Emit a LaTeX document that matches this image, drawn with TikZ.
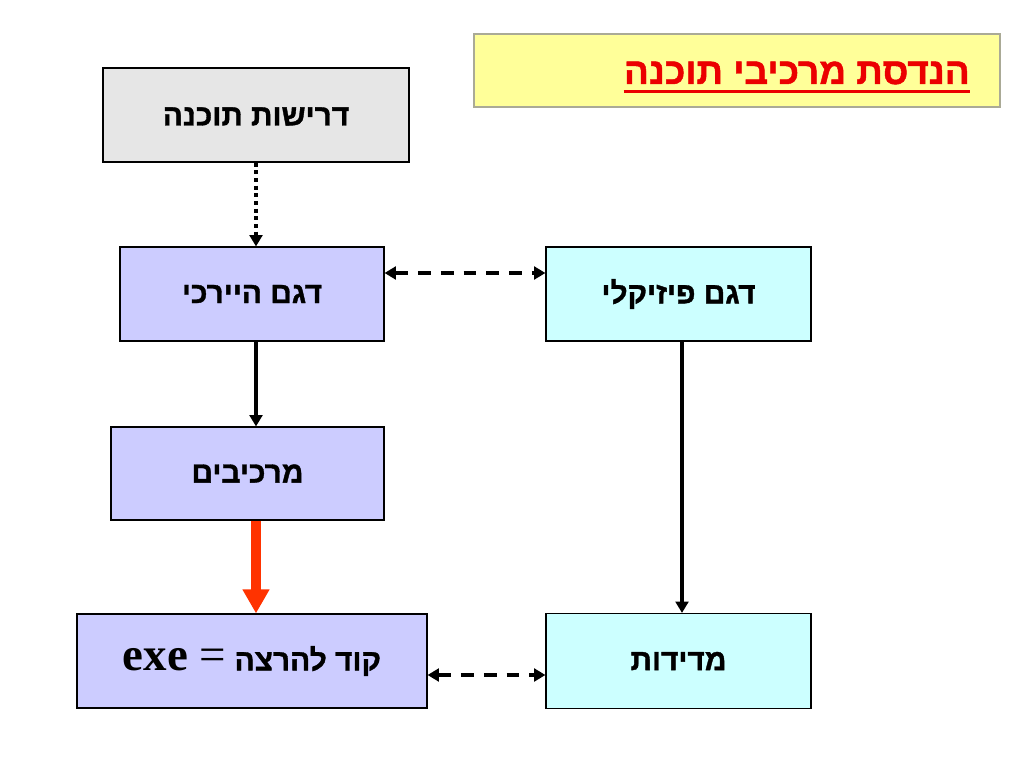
\documentclass[tikz,border=0pt]{standalone}
\usepackage{fontspec}
\setmainfont{Liberation Sans}
\newfontfamily\heb[Script=Hebrew, BoldFeatures={FakeBold=1.2}]{Liberation Sans}
\newfontfamily\tms{Liberation Serif}
\TeXXeTstate=1
\usetikzlibrary{arrows.meta}
\definecolor{grayfill}{RGB}{230,230,230}
\definecolor{lav}{RGB}{204,204,255}
\definecolor{cyanfill}{RGB}{204,255,255}
\definecolor{yel}{RGB}{255,255,153}
\definecolor{redarrow}{RGB}{255,51,0}
\definecolor{titlered}{RGB}{235,0,0}
\definecolor{titleborder}{RGB}{170,170,150}
\tikzset{
  bx/.style 2 args={draw=black, line width=0.8pt, minimum width={#1*0.703125pt}, minimum height={#2*0.703125pt}, inner sep=0pt, font=\heb\bfseries\fontsize{21}{24}\selectfont},
  tip/.style={-{Triangle[length=8pt,width=9pt]}},
  bitip/.style={{Triangle[length=8pt,width=9pt]}-{Triangle[length=8pt,width=9pt]}},
  solidarrow/.style={tip, line width=2.6pt},
  dottedarrow/.style={tip, line width=2.8pt, dash pattern=on 2.8pt off 2.6pt},
  dashedarrow/.style={bitip, line width=2.8pt, dash pattern=on 9pt off 7pt},
  redarr/.style={-{Triangle[length=17pt,width=18pt]}, line width=6.5pt, draw=redarrow}
}
\begin{document}
\begin{tikzpicture}[x=0.703125pt,y=-0.703125pt]
\useasboundingbox (0,0) rectangle (1024,768);
\fill[white] (0,0) rectangle (1024,768);
% title
\node[draw=titleborder, fill=yel, line width=0.8pt, minimum width={526*0.703125pt}, minimum height={73*0.703125pt}, inner sep=0pt] (title) at (737,70.5) {};
\node[font=\heb\bfseries\fontsize{26}{30}\selectfont, text=titlered, anchor=base east, inner sep=0pt] (titletext) at (970,84) {\beginR הנדסת מרכיבי תוכנה\endR};
\coordinate (ul) at (0,91.5);
\draw[titlered, line width=2.2pt] (titletext.west |- ul) -- (titletext.east |- ul);
% boxes
\node[bx={306}{94}, fill=grayfill, text depth=0pt] (req) at (256,115) {\raisebox{-2pt}{\beginR דרישות תוכנה\endR}};
\node[bx={264}{94}, fill=lav] (hier) at (252,294) {\raisebox{-2pt}{\beginR דגם היירכי\endR}};
\node[bx={273}{93}, fill=lav] (comp) at (247.5,473.5) {\raisebox{-2pt}{\beginR מרכיבים\endR}};
\node[bx={350}{94}, fill=lav] (exe) at (252,661) {{\tms\bfseries\fontsize{33}{34}\selectfont exe \mdseries=} \beginR קוד להרצה\endR};
\node[bx={265}{94}, fill=cyanfill] (phys) at (678.5,294) {\raisebox{-2pt}{\beginR דגם פיזיקלי\endR}};
\node[bx={265}{95}, fill=cyanfill] (meas) at (678.5,661) {\raisebox{-2pt}{\beginR מדידות\endR}};
% helper coordinates
\coordinate (xl) at (256,0);
\coordinate (xr) at (682,0);
\coordinate (yu) at (0,273);
\coordinate (yb) at (0,675);
% connectors
\draw[dottedarrow] (req.south -| xl) -- (hier.north -| xl);
\draw[solidarrow] (hier.south -| xl) -- (comp.north -| xl);
\draw[redarr] (comp.south -| xl) -- (exe.north -| xl);
\draw[solidarrow] (phys.south -| xr) -- (meas.north -| xr);
\draw[dashedarrow] (hier.east |- yu) -- (phys.west |- yu);
\draw[dashedarrow] (exe.east |- yb) -- (meas.west |- yb);
\end{tikzpicture}
\end{document}
